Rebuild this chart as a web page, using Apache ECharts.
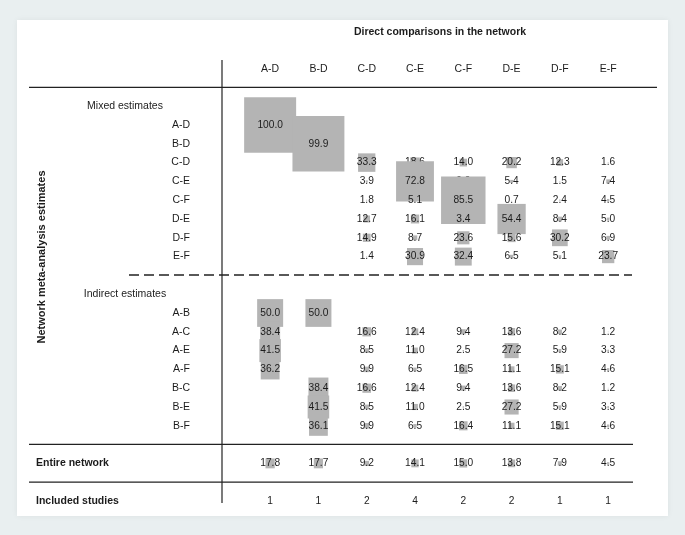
<!DOCTYPE html>
<html>
<head>
<meta charset="utf-8">
<script src="https://cdn.jsdelivr.net/npm/echarts@6/dist/echarts.min.js"></script>
<style>
html,body{margin:0;padding:0;background:#e9eff0;}
#chart{width:685px;height:535px;}
</style>
</head>
<body>
<div id="chart"></div>
<script>
// ---- data ----
const columns = ['A-D', 'B-D', 'C-D', 'C-E', 'C-F', 'D-E', 'D-F', 'E-F'];
const mixedRows = ['A-D', 'B-D', 'C-D', 'C-E', 'C-F', 'D-E', 'D-F', 'E-F'];
const mixedValues = [
  [100.0, null, null, null, null, null, null, null],
  [null, 99.9, null, null, null, null, null, null],
  [null, null, 33.3, 18.6, 14.0, 20.2, 12.3, 1.6],
  [null, null, 3.9, 72.8, 9.0, 5.4, 1.5, 7.4],
  [null, null, 1.8, 5.1, 85.5, 0.7, 2.4, 4.5],
  [null, null, 12.7, 16.1, 3.4, 54.4, 8.4, 5.0],
  [null, null, 14.9, 8.7, 23.6, 15.6, 30.2, 6.9],
  [null, null, 1.4, 30.9, 32.4, 6.5, 5.1, 23.7]
];
const indirectRows = ['A-B', 'A-C', 'A-E', 'A-F', 'B-C', 'B-E', 'B-F'];
const indirectValues = [
  [50.0, 50.0, null, null, null, null, null, null],
  [38.4, null, 16.6, 12.4, 9.4, 13.6, 8.2, 1.2],
  [41.5, null, 8.5, 11.0, 2.5, 27.2, 5.9, 3.3],
  [36.2, null, 9.9, 6.5, 16.5, 11.1, 15.1, 4.6],
  [null, 38.4, 16.6, 12.4, 9.4, 13.6, 8.2, 1.2],
  [null, 41.5, 8.5, 11.0, 2.5, 27.2, 5.9, 3.3],
  [null, 36.1, 9.9, 6.5, 16.4, 11.1, 15.1, 4.6]
];
const entireNetwork = [17.8, 17.7, 9.2, 14.1, 15.0, 13.8, 7.9, 4.5];
const includedStudies = [1, 1, 2, 4, 2, 2, 1, 1];
const sectionHeaders = ['Mixed estimates', 'Indirect estimates'];
const totalLabels = ['Entire network', 'Included studies'];
const titleText = 'Direct comparisons in the network';
const yTitleText = 'Network meta-analysis estimates';

// ---- build row slots ----
const rowSlots = [];
rowSlots.push(sectionHeaders[0]);
const mixedStart = rowSlots.length;
mixedRows.forEach(r => rowSlots.push(r));
rowSlots.push('gap1');
rowSlots.push(sectionHeaders[1]);
const indirectStart = rowSlots.length;
indirectRows.forEach(r => rowSlots.push(r));
rowSlots.push('gap2');
const entireIdx = rowSlots.length;
rowSlots.push(totalLabels[0]);
rowSlots.push('gap3');
const studiesIdx = rowSlots.length;
rowSlots.push(totalLabels[1]);

const cellData = [];
mixedValues.forEach((row, i) => row.forEach((v, j) => { if (v != null) cellData.push([j, mixedStart + i, v]); }));
indirectValues.forEach((row, i) => row.forEach((v, j) => { if (v != null) cellData.push([j, indirectStart + i, v]); }));
entireNetwork.forEach((v, j) => cellData.push([j, entireIdx, v]));
const studyData = includedStudies.map((v, j) => [j, studiesIdx, v]);

const FONT = '"Liberation Sans", Arial, Helvetica, sans-serif';
const TXT = '#1c1c1c';
const BOX = '#b4b4b4';

const chart = echarts.init(document.getElementById('chart'), null, {renderer: 'canvas'});
chart.setOption({
  backgroundColor: '#e9eff0',
  animation: false,
  textStyle: {fontFamily: FONT},
  grid: {left: 246, right: 52.7, top: 96.8, bottom: 24.6, containLabel: false},
  xAxis: {
    type: 'category', data: columns, position: 'top',
    axisLine: {show: false}, axisTick: {show: false}, splitLine: {show: false},
    axisLabel: {margin: 22, fontSize: 10.5, color: TXT, fontFamily: FONT}
  },
  yAxis: {
    type: 'category', data: rowSlots, inverse: true,
    axisLine: {show: false}, axisTick: {show: false}, splitLine: {show: false},
    axisLabel: {
      margin: 56, fontSize: 10.5, color: TXT, fontFamily: FONT,
      formatter: function (val) {
        if (val.indexOf('gap') === 0) return '';
        if (sectionHeaders.indexOf(val) >= 0) return '{hdr|' + val + '}';
        if (totalLabels.indexOf(val) >= 0) return '{tot|' + val + '}';
        return val;
      },
      rich: {
        hdr: {width: 130, align: 'center', fontSize: 10.5, color: TXT, fontFamily: FONT},
        tot: {width: 154, align: 'left', fontSize: 10.5, fontWeight: 'bold', color: TXT, fontFamily: FONT}
      }
    }
  },
  graphic: [
    {type: 'rect', z: -10, shape: {x: 17, y: 20, width: 651, height: 496},
      style: {fill: '#ffffff', shadowBlur: 6, shadowColor: 'rgba(0,0,0,0.06)'}},
    {type: 'text', x: 440, y: 32, z: 5,
      style: {text: titleText, font: 'bold 10.5px ' + FONT, fill: TXT, align: 'center', verticalAlign: 'middle'}},
    {type: 'text', x: 42, y: 257, rotation: Math.PI / 2, z: 5,
      style: {text: yTitleText, font: 'bold 11px ' + FONT, fill: TXT, align: 'center', verticalAlign: 'middle'}},
    {type: 'line', z: 1, shape: {x1: 29, y1: 87.4, x2: 657, y2: 87.4}, style: {stroke: '#222', lineWidth: 1.2}},
    {type: 'line', z: 1, shape: {x1: 222, y1: 60, x2: 222, y2: 503}, style: {stroke: '#222', lineWidth: 1.2}},
    {type: 'line', z: 1, shape: {x1: 129, y1: 275, x2: 632, y2: 275}, style: {stroke: '#222', lineWidth: 1.5, lineDash: [10, 5]}},
    {type: 'line', z: 1, shape: {x1: 29, y1: 444.4, x2: 633, y2: 444.4}, style: {stroke: '#222', lineWidth: 1.2}},
    {type: 'line', z: 1, shape: {x1: 29, y1: 482.2, x2: 633, y2: 482.2}, style: {stroke: '#222', lineWidth: 1.2}}
  ],
  series: [
    {
      type: 'custom', coordinateSystem: 'cartesian2d', clip: false,
      encode: {x: 0, y: 1},
      data: cellData,
      renderItem: function (params, api) {
        const v = api.value(2);
        const c = api.coord([api.value(0), api.value(1)]);
        const w = v * 0.52, h = v * 0.555;
        const k = params.dataIndex;
        return {
          type: 'group',
          children: [
            {type: 'rect', z2: 2 * k, shape: {x: c[0] - w / 2, y: c[1] - h / 2, width: w, height: h}, style: {fill: BOX}},
            {type: 'text', z2: 2 * k + 1, x: c[0], y: c[1],
              style: {text: v.toFixed(1), font: '10.2px ' + FONT, fill: TXT, align: 'center', verticalAlign: 'middle'}}
          ]
        };
      }
    },
    {
      type: 'custom', coordinateSystem: 'cartesian2d', clip: false,
      encode: {x: 0, y: 1},
      data: studyData,
      renderItem: function (params, api) {
        const c = api.coord([api.value(0), api.value(1)]);
        return {type: 'text', x: c[0], y: c[1],
          style: {text: String(api.value(2)), font: '10.2px ' + FONT, fill: TXT, align: 'center', verticalAlign: 'middle'}};
      }
    }
  ]
});
</script>
</body>
</html>
